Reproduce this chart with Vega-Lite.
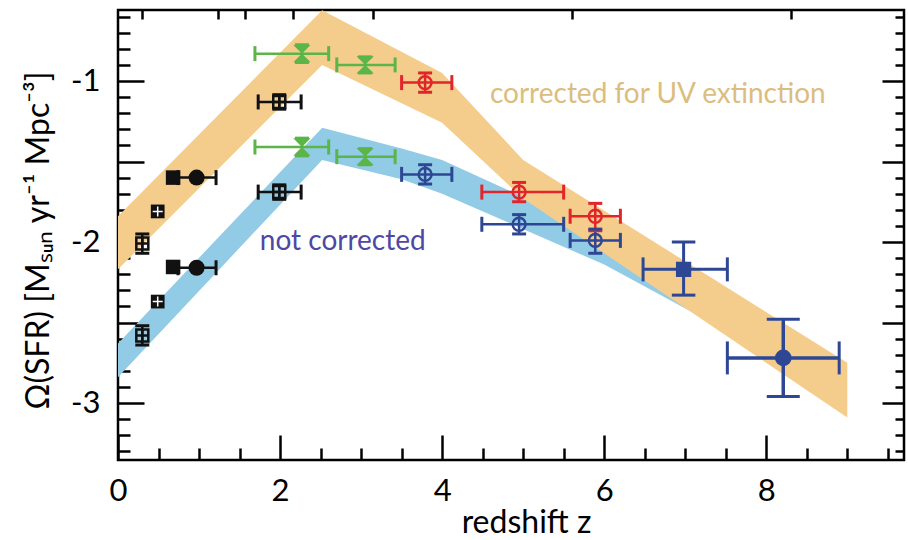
{
  "$schema": "https://vega.github.io/schema/vega-lite/v6.json",
  "width": 786,
  "height": 450,
  "autosize": {"type": "none"},
  "padding": {"left": 118, "top": 10, "right": 4, "bottom": 80},
  "background": "white",
  "config": {
    "view": {"stroke": "#000", "strokeWidth": 2.5},
    "axis": {"domain": false, "grid": false, "labelFont": "Lato", "titleFont": "Lato", "labelColor": "#000", "titleColor": "#000", "titleFontWeight": "normal", "tickColor": "#000", "tickWidth": 2.5}
  },
  "datasets": {
    "bands": [
      {"band": "b", "z": 0, "lo": -2.84, "hi": -2.63},
      {"band": "b", "z": 2.52, "lo": -1.49, "hi": -1.29},
      {"band": "b", "z": 3.5, "lo": -1.61, "hi": -1.42},
      {"band": "b", "z": 4.0, "lo": -1.70, "hi": -1.49},
      {"band": "b", "z": 6.0, "lo": -2.14, "hi": -1.95},
      {"band": "b", "z": 7.1, "lo": -2.44, "hi": -2.25},
      {"band": "o", "z": 0, "lo": -2.17, "hi": -1.84},
      {"band": "o", "z": 2.52, "lo": -0.9, "hi": -0.56},
      {"band": "o", "z": 4.0, "lo": -1.26, "hi": -0.95},
      {"band": "o", "z": 5.0, "lo": -1.73, "hi": -1.49},
      {"band": "o", "z": 9.0, "lo": -3.09, "hi": -2.75}
    ],
    "notes": [
      {"z": 4.59, "y": -1.137, "label": "corrected for UV extinction", "series": "tan"},
      {"z": 1.75, "y": -2.05, "label": "not corrected", "series": "purple"}
    ],
    "pts": [
      {"series": "black", "mk": "boxplus", "grp": "s", "z": 0.3, "y": -2.01, "ylo": -2.07, "yhi": -1.95},
      {"series": "black", "mk": "boxplus", "grp": "s", "z": 0.3, "y": -2.58, "ylo": -2.64, "yhi": -2.52},
      {"series": "black", "mk": "gridsq", "grp": "s", "z": 0.49, "y": -1.81},
      {"series": "black", "mk": "gridsq", "grp": "s", "z": 0.49, "y": -2.37},
      {"series": "black", "mk": "circs", "grp": "s", "z": 0.97, "y": -1.6, "zlo": 0.74, "zhi": 1.21},
      {"series": "black", "mk": "circs", "grp": "s", "z": 0.97, "y": -2.16, "zlo": 0.74, "zhi": 1.21},
      {"series": "black", "mk": "sqs", "grp": "s", "z": 0.68, "y": -1.6},
      {"series": "black", "mk": "sqs", "grp": "s", "z": 0.68, "y": -2.155},
      {"series": "black", "mk": "boxplus", "grp": "s", "z": 1.99, "y": -1.13, "zlo": 1.73, "zhi": 2.26, "ylo": -1.175, "yhi": -1.085},
      {"series": "black", "mk": "boxplus", "grp": "s", "z": 1.99, "y": -1.69, "zlo": 1.73, "zhi": 2.26, "ylo": -1.735, "yhi": -1.645},
      {"series": "green", "mk": "hour", "grp": "s", "z": 2.27, "y": -0.83, "zlo": 1.69, "zhi": 2.6, "ylo": -0.885, "yhi": -0.775},
      {"series": "green", "mk": "hour", "grp": "s", "z": 3.05, "y": -0.9, "zlo": 2.7, "zhi": 3.42, "ylo": -0.95, "yhi": -0.85},
      {"series": "green", "mk": "hour", "grp": "s", "z": 2.27, "y": -1.41, "zlo": 1.69, "zhi": 2.6, "ylo": -1.465, "yhi": -1.355},
      {"series": "green", "mk": "hour", "grp": "s", "z": 3.05, "y": -1.47, "zlo": 2.7, "zhi": 3.42, "ylo": -1.52, "yhi": -1.42},
      {"series": "blue", "mk": "ring", "grp": "s", "z": 3.79, "y": -1.58, "zlo": 3.5, "zhi": 4.12, "ylo": -1.64, "yhi": -1.52},
      {"series": "blue", "mk": "ring", "grp": "s", "z": 4.95, "y": -1.89, "zlo": 4.49, "zhi": 5.5, "ylo": -1.95, "yhi": -1.83},
      {"series": "blue", "mk": "ring", "grp": "s", "z": 5.89, "y": -1.99, "zlo": 5.58, "zhi": 6.2, "ylo": -2.07, "yhi": -1.92},
      {"series": "red", "mk": "ring", "grp": "s", "z": 3.79, "y": -1.01, "zlo": 3.5, "zhi": 4.12, "ylo": -1.07, "yhi": -0.95},
      {"series": "red", "mk": "ring", "grp": "s", "z": 4.95, "y": -1.69, "zlo": 4.49, "zhi": 5.5, "ylo": -1.75, "yhi": -1.63},
      {"series": "red", "mk": "ring", "grp": "s", "z": 5.89, "y": -1.84, "zlo": 5.58, "zhi": 6.2, "ylo": -1.93, "yhi": -1.76},
      {"series": "blue", "mk": "sqL", "grp": "l1", "z": 6.98, "y": -2.17, "zlo": 6.48, "zhi": 7.52, "ylo": -2.33, "yhi": -2.0},
      {"series": "blue", "mk": "circL", "grp": "l2", "z": 8.21, "y": -2.72, "zlo": 7.52, "zhi": 8.9, "ylo": -2.96, "yhi": -2.48}
    ]
  },
  "layer": [
    {
      "data": {"name": "notes"},
      "mark": {"type": "point", "opacity": 0},
      "encoding": {
        "x": {"field": "z", "type": "quantitative", "scale": {"domain": [0, 9.7], "nice": false, "zero": false},
          "axis": {"orient": "bottom", "values": [0, 0.5, 1, 1.5, 2, 2.5, 3, 3.5, 4, 4.5, 5, 5.5, 6, 6.5, 7, 7.5, 8, 8.5, 9, 9.5],
            "tickSize": {"condition": {"test": "datum.value % 2 === 0", "value": -25}, "value": -12},
            "labelExpr": "datum.value % 2 === 0 ? '' + datum.value : ''",
            "labelFontSize": 31, "labelPadding": 41, "labelFlush": false,
            "title": "redshift z", "titleFontSize": 32, "titleBaseline": "alphabetic", "titleX": 408, "titleY": 72}},
        "y": {"field": "y", "type": "quantitative", "scale": {"domain": [-3.354, -0.559], "nice": false, "zero": false},
          "axis": {"orient": "left", "values": [-3.3, -3.2, -3.1, -3.0, -2.9, -2.8, -2.7, -2.6, -2.5, -2.4, -2.3, -2.2, -2.1, -2.0, -1.9, -1.8, -1.7, -1.6, -1.5, -1.4, -1.3, -1.2, -1.1, -1.0, -0.9, -0.8, -0.7, -0.6],
            "tickSize": {"condition": {"test": "abs(datum.value*2 - round(datum.value*2)) < 0.001", "value": -26}, "value": -12},
            "labelExpr": "abs(datum.value - round(datum.value)) < 0.001 ? '-' + abs(round(datum.value)) : ''",
            "labelFontSize": 31, "labelPadding": 44, "labelFlush": false,
            "title": "Ω(SFR) [Mₛᵤₙ yr⁻¹ Mpc⁻³]", "titleFontSize": 32, "titleAngle": -90, "titleBaseline": "alphabetic", "titleAlign": "center", "titleX": -70, "titleY": 230}}
      }
    },
    {
      "data": {"name": "notes"},
      "mark": {"type": "point", "opacity": 0},
      "encoding": {
        "x": {"field": "z", "type": "quantitative",
          "axis": {"orient": "top", "values": [0.3, 1.23, 1.57, 2.16, 3.15, 5.6, 8.3], "labels": false, "tickSize": -9, "title": null}},
        "y": {"field": "y", "type": "quantitative",
          "axis": {"orient": "right", "values": [-3.3, -3.2, -3.1, -3.0, -2.9, -2.8, -2.7, -2.6, -2.5, -2.4, -2.3, -2.2, -2.1, -2.0, -1.9, -1.8, -1.7, -1.6, -1.5, -1.4, -1.3, -1.2, -1.1, -1.0, -0.9, -0.8, -0.7, -0.6],
            "tickSize": {"condition": {"test": "abs(datum.value*2 - round(datum.value*2)) < 0.001", "value": -22}, "value": -9},
            "labels": false, "title": null}}
      }
    },
    {
      "data": {"name": "bands"},
      "transform": [{"filter": "datum.band === 'b'"}],
      "mark": {"type": "area", "color": "#92cbe5", "opacity": 1, "clip": true},
      "encoding": {
        "x": {"field": "z", "type": "quantitative", "axis": null},
        "y": {"field": "hi", "type": "quantitative", "axis": null},
        "y2": {"field": "lo"}
      }
    },
    {
      "data": {"name": "bands"},
      "transform": [{"filter": "datum.band === 'o'"}],
      "mark": {"type": "area", "color": "#f4cd8d", "opacity": 1, "clip": true},
      "encoding": {
        "x": {"field": "z", "type": "quantitative", "axis": null},
        "y": {"field": "hi", "type": "quantitative", "axis": null},
        "y2": {"field": "lo"}
      }
    },
    {
      "data": {"name": "notes"},
      "mark": {"type": "text", "font": "Lato", "fontSize": 28, "align": "left", "baseline": "alphabetic"},
      "encoding": {
        "x": {"field": "z", "type": "quantitative", "axis": null},
        "y": {"field": "y", "type": "quantitative", "axis": null},
        "text": {"field": "label"},
        "color": {"field": "series", "type": "nominal", "scale": {"domain": ["black", "green", "red", "blue", "tan", "purple"], "range": ["#111111", "#5bb548", "#e1262b", "#2d4795", "#dcbd80", "#4e48a5"]}, "legend": null}
      }
    },
    {
      "data": {"name": "pts"},
      "transform": [{"filter": "isValid(datum.zlo)"}],
      "mark": {"type": "rule"},
      "encoding": {
        "x": {"field": "zlo", "type": "quantitative", "axis": null},
        "x2": {"field": "zhi"},
        "y": {"field": "y", "type": "quantitative", "axis": null},
        "color": {"field": "series", "type": "nominal", "legend": null},
        "strokeWidth": {"field": "grp", "type": "nominal", "scale": {"domain": ["s", "l1", "l2"], "range": [2.5, 3.5, 3.5]}, "legend": null}
      }
    },
    {
      "data": {"name": "pts"},
      "transform": [{"filter": "isValid(datum.zlo)"}],
      "mark": {"type": "tick", "orient": "vertical", "thickness": 3, "opacity": 1},
      "encoding": {
        "x": {"field": "zlo", "type": "quantitative", "axis": null},
        "y": {"field": "y", "type": "quantitative", "axis": null},
        "color": {"field": "series", "type": "nominal", "legend": null},
        "size": {"field": "grp", "type": "nominal", "scale": {"domain": ["s", "l1", "l2"], "range": [15, 33, 40]}, "legend": null}
      }
    },
    {
      "data": {"name": "pts"},
      "transform": [{"filter": "isValid(datum.zhi)"}],
      "mark": {"type": "tick", "orient": "vertical", "thickness": 3, "opacity": 1},
      "encoding": {
        "x": {"field": "zhi", "type": "quantitative", "axis": null},
        "y": {"field": "y", "type": "quantitative", "axis": null},
        "color": {"field": "series", "type": "nominal", "legend": null},
        "size": {"field": "grp", "type": "nominal", "scale": {"domain": ["s", "l1", "l2"], "range": [15, 33, 40]}, "legend": null}
      }
    },
    {
      "data": {"name": "pts"},
      "transform": [{"filter": "isValid(datum.ylo)"}],
      "mark": {"type": "rule"},
      "encoding": {
        "x": {"field": "z", "type": "quantitative", "axis": null},
        "y": {"field": "ylo", "type": "quantitative", "axis": null},
        "y2": {"field": "yhi"},
        "color": {"field": "series", "type": "nominal", "legend": null},
        "strokeWidth": {"field": "grp", "type": "nominal", "scale": {"domain": ["s", "l1", "l2"], "range": [2.5, 3.5, 3.5]}, "legend": null}
      }
    },
    {
      "data": {"name": "pts"},
      "transform": [{"filter": "isValid(datum.ylo)"}],
      "mark": {"type": "tick", "orient": "horizontal", "thickness": 3, "opacity": 1},
      "encoding": {
        "x": {"field": "z", "type": "quantitative", "axis": null},
        "y": {"field": "ylo", "type": "quantitative", "axis": null},
        "color": {"field": "series", "type": "nominal", "legend": null},
        "size": {"field": "grp", "type": "nominal", "scale": {"domain": ["s", "l1", "l2"], "range": [14, 33, 40]}, "legend": null}
      }
    },
    {
      "data": {"name": "pts"},
      "transform": [{"filter": "isValid(datum.yhi)"}],
      "mark": {"type": "tick", "orient": "horizontal", "thickness": 3, "opacity": 1},
      "encoding": {
        "x": {"field": "z", "type": "quantitative", "axis": null},
        "y": {"field": "yhi", "type": "quantitative", "axis": null},
        "color": {"field": "series", "type": "nominal", "legend": null},
        "size": {"field": "grp", "type": "nominal", "scale": {"domain": ["s", "l1", "l2"], "range": [14, 33, 40]}, "legend": null}
      }
    },
    {
      "data": {"name": "pts"},
      "transform": [{"filter": "datum.mk === 'boxplus' || datum.mk === 'ring'"}],
      "mark": {"type": "point", "filled": false, "opacity": 1, "strokeWidth": 2.5},
      "encoding": {
        "x": {"field": "z", "type": "quantitative", "axis": null},
        "y": {"field": "y", "type": "quantitative", "axis": null},
        "color": {"field": "series", "type": "nominal", "legend": null},
        "shape": {"field": "mk", "type": "nominal", "scale": {"domain": ["boxplus", "ring", "gridsq", "sqs", "sqL", "circs", "circL", "hour"], "range": ["M-1,-1H1V1H-1Z M0,-1V1 M-1,0H1", "circle", "square", "square", "square", "circle", "circle", "M-1,-1L1,-1L-1,1L1,1Z"]}, "legend": null},
        "size": {"field": "mk", "type": "nominal", "scale": {"domain": ["boxplus", "ring", "gridsq", "sqs", "sqL", "circs", "circL", "hour"], "range": [144, 300, 169, 225, 576, 144, 1444, 80]}, "legend": null}
      }
    },
    {
      "data": {"name": "pts"},
      "transform": [{"filter": "datum.mk !== 'boxplus' && datum.mk !== 'ring'"}],
      "mark": {"type": "point", "filled": true, "opacity": 1},
      "encoding": {
        "x": {"field": "z", "type": "quantitative", "axis": null},
        "y": {"field": "y", "type": "quantitative", "axis": null},
        "color": {"field": "series", "type": "nominal", "legend": null},
        "shape": {"field": "mk", "type": "nominal", "scale": {"domain": ["boxplus", "ring", "gridsq", "sqs", "sqL", "circs", "circL", "hour"], "range": ["M-1,-1H1V1H-1Z M0,-1V1 M-1,0H1", "circle", "square", "square", "square", "circle", "circle", "M-1,-1L1,-1L-1,1L1,1Z"]}, "legend": null},
        "size": {"field": "mk", "type": "nominal", "scale": {"domain": ["boxplus", "ring", "gridsq", "sqs", "sqL", "circs", "circL", "hour"], "range": [144, 300, 169, 225, 576, 144, 1444, 80]}, "legend": null}
      }
    },
    {
      "data": {"name": "pts"},
      "transform": [{"filter": "datum.mk === 'gridsq'"}],
      "mark": {"type": "point", "shape": "M-1,0H1 M0,-1V1", "filled": false, "stroke": "white", "strokeWidth": 1.5, "size": 100, "opacity": 1},
      "encoding": {
        "x": {"field": "z", "type": "quantitative", "axis": null},
        "y": {"field": "y", "type": "quantitative", "axis": null}
      }
    }
  ],
  "resolve": {"scale": {"size": "independent", "strokeWidth": "independent"}, "axis": {"x": "independent", "y": "independent"}}
}
